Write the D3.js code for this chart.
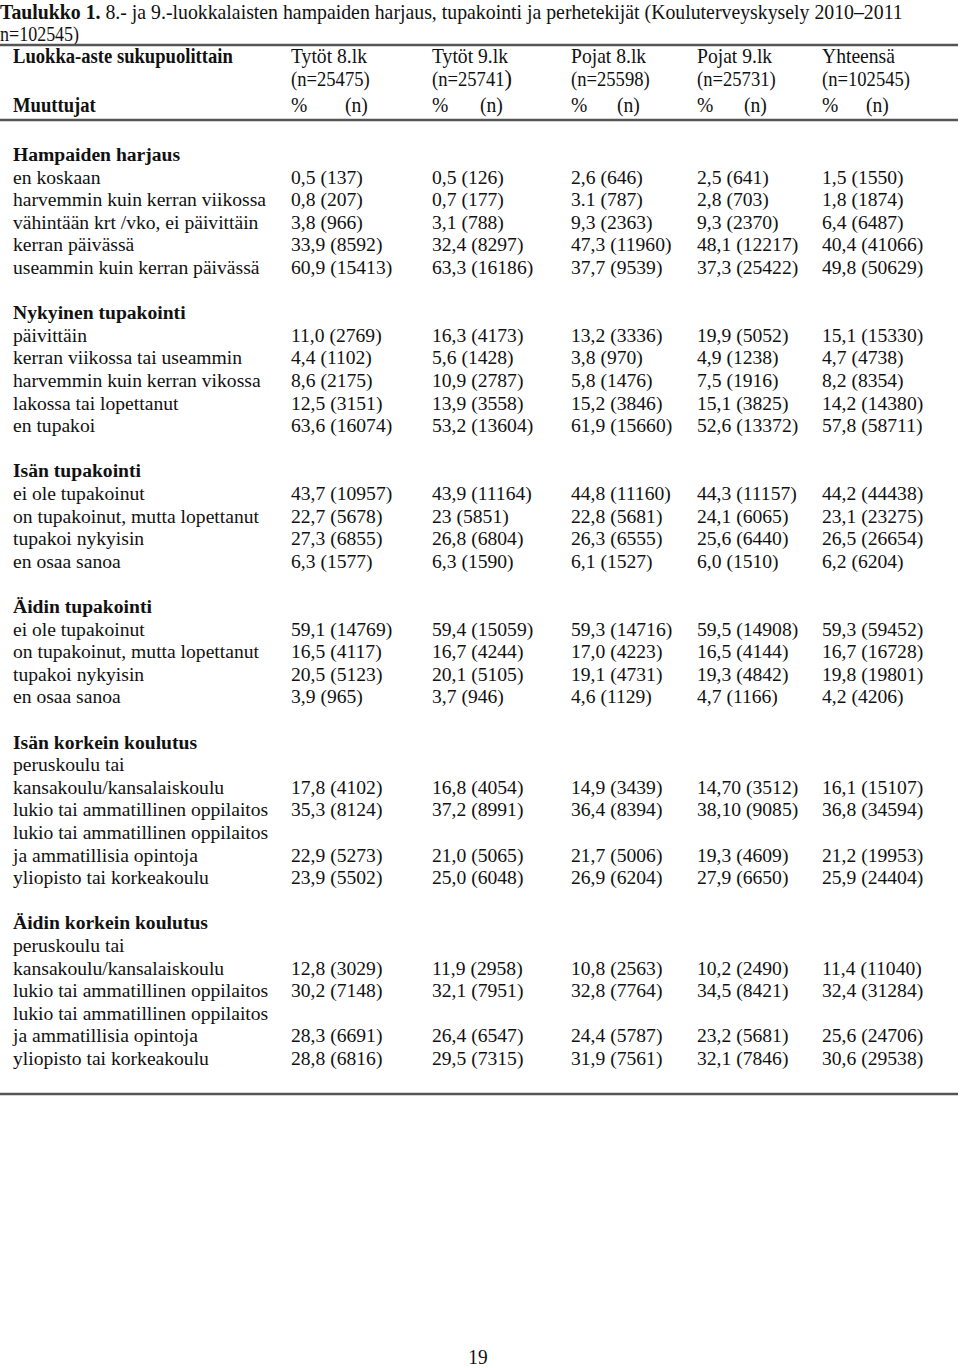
<!DOCTYPE html>
<html>
<head>
<meta charset="utf-8">
<script src="https://cdn.jsdelivr.net/npm/d3@7"></script>
<style>
  body { margin: 0; background: #fff; }
  text { font-family: "Liberation Serif", "Times New Roman", serif; fill: #111; }
</style>
</head>
<body>
<script>
const w = 960;
const h = 1368;

// table content
const columns = ['Tytöt 8.lk', 'Tytöt 9.lk', 'Pojat 8.lk', 'Pojat 9.lk', 'Yhteensä'];
const columnN = ['(n=25475)', '(n=25741', '(n=25598)', '(n=25731)', '(n=102545)'];
const sections = ['Hampaiden harjaus', 'Nykyinen tupakointi', 'Isän tupakointi', 'Äidin tupakointi',
  'Isän korkein koulutus', 'Äidin korkein koulutus'];
const rowSection = [0, 0, 0, 0, 0, 1, 1, 1, 1, 1, 2, 2, 2, 2, 3, 3, 3, 3, 4, 4, 4, 4, 5, 5, 5, 5];
const rowLabels = [
  'en koskaan', 'harvemmin kuin kerran viikossa', 'vähintään krt /vko, ei päivittäin', 'kerran päivässä',
  'useammin kuin kerran päivässä',
  'päivittäin', 'kerran viikossa tai useammin', 'harvemmin kuin kerran vikossa', 'lakossa tai lopettanut', 'en tupakoi',
  'ei ole tupakoinut', 'on tupakoinut, mutta lopettanut', 'tupakoi nykyisin', 'en osaa sanoa',
  'ei ole tupakoinut', 'on tupakoinut, mutta lopettanut', 'tupakoi nykyisin', 'en osaa sanoa',
  'peruskoulu tai|kansakoulu/kansalaiskoulu', 'lukio tai ammatillinen oppilaitos',
  'lukio tai ammatillinen oppilaitos|ja ammatillisia opintoja', 'yliopisto tai korkeakoulu',
  'peruskoulu tai|kansakoulu/kansalaiskoulu', 'lukio tai ammatillinen oppilaitos',
  'lukio tai ammatillinen oppilaitos|ja ammatillisia opintoja', 'yliopisto tai korkeakoulu'
];

const tytot8Pct = ['0,5', '0,8', '3,8', '33,9', '60,9', '11,0', '4,4', '8,6', '12,5', '63,6', '43,7', '22,7', '27,3', '6,3',
  '59,1', '16,5', '20,5', '3,9', '17,8', '35,3', '22,9', '23,9', '12,8', '30,2', '28,3', '28,8'];
const tytot8N = [137, 207, 966, 8592, 15413, 2769, 1102, 2175, 3151, 16074, 10957, 5678, 6855, 1577,
  14769, 4117, 5123, 965, 4102, 8124, 5273, 5502, 3029, 7148, 6691, 6816];
const tytot9Pct = ['0,5', '0,7', '3,1', '32,4', '63,3', '16,3', '5,6', '10,9', '13,9', '53,2', '43,9', '23', '26,8', '6,3',
  '59,4', '16,7', '20,1', '3,7', '16,8', '37,2', '21,0', '25,0', '11,9', '32,1', '26,4', '29,5'];
const tytot9N = [126, 177, 788, 8297, 16186, 4173, 1428, 2787, 3558, 13604, 11164, 5851, 6804, 1590,
  15059, 4244, 5105, 946, 4054, 8991, 5065, 6048, 2958, 7951, 6547, 7315];
const pojat8Pct = ['2,6', '3.1', '9,3', '47,3', '37,7', '13,2', '3,8', '5,8', '15,2', '61,9', '44,8', '22,8', '26,3', '6,1',
  '59,3', '17,0', '19,1', '4,6', '14,9', '36,4', '21,7', '26,9', '10,8', '32,8', '24,4', '31,9'];
const pojat8N = [646, 787, 2363, 11960, 9539, 3336, 970, 1476, 3846, 15660, 11160, 5681, 6555, 1527,
  14716, 4223, 4731, 1129, 3439, 8394, 5006, 6204, 2563, 7764, 5787, 7561];
const pojat9Pct = ['2,5', '2,8', '9,3', '48,1', '37,3', '19,9', '4,9', '7,5', '15,1', '52,6', '44,3', '24,1', '25,6', '6,0',
  '59,5', '16,5', '19,3', '4,7', '14,70', '38,10', '19,3', '27,9', '10,2', '34,5', '23,2', '32,1'];
const pojat9N = [641, 703, 2370, 12217, 25422, 5052, 1238, 1916, 3825, 13372, 11157, 6065, 6440, 1510,
  14908, 4144, 4842, 1166, 3512, 9085, 4609, 6650, 2490, 8421, 5681, 7846];
const yhtPct = ['1,5', '1,8', '6,4', '40,4', '49,8', '15,1', '4,7', '8,2', '14,2', '57,8', '44,2', '23,1', '26,5', '6,2',
  '59,3', '16,7', '19,8', '4,2', '16,1', '36,8', '21,2', '25,9', '11,4', '32,4', '25,6', '30,6'];
const yhtN = [1550, 1874, 6487, 41066, 50629, 15330, 4738, 8354, 14380, 58711, 44438, 23275, 26654, 6204,
  59452, 16728, 19801, 4206, 15107, 34594, 19953, 24404, 11040, 31284, 24706, 29538];

const pctCols = [tytot8Pct, tytot9Pct, pojat8Pct, pojat9Pct, yhtPct];
const nCols = [tytot8N, tytot9N, pojat8N, pojat9N, yhtN];

// build line slots: section heading, rows (multi-line labels), blank line between sections
const lines = [];
const cells = [];
let slot = 0;
sections.forEach((s, si) => {
  if (si > 0) slot++;
  lines.push({ slot: slot++, text: s, bold: true });
  rowSection.forEach((rs, ri) => {
    if (rs !== si) return;
    const parts = rowLabels[ri].split('|');
    parts.forEach((p) => lines.push({ slot: slot++, text: p, bold: false }));
    pctCols.forEach((col, ci) => {
      cells.push({ slot: slot - 1, col: ci, text: `${col[ri]} (${nCols[ci][ri]})` });
    });
  });
});

const svg = d3.select('body').append('svg')
  .attr('width', w)
  .attr('height', h);

const y = d3.scaleLinear().domain([0, slot - 1]).range([161, 1065]);
const x = d3.scaleOrdinal().domain(d3.range(columns.length)).range([291, 432, 571, 697, 822]);
const xN = d3.scaleOrdinal().domain(d3.range(columns.length)).range([345, 480, 617, 744, 866]);

const bodySize = 18.5, bodySx = 1.06;
const headSize = 20, headSx = 0.98;

// title
const title = svg.append('text')
  .attr('transform', `translate(0,19) scale(0.99,1)`)
  .style('font-size', '20px');
title.append('tspan').style('font-weight', 'bold').text('Taulukko 1.');
title.append('tspan').text(' 8.- ja 9.-luokkalaisten hampaiden harjaus, tupakointi ja perhetekijät (Kouluterveyskysely 2010–2011');
svg.append('text')
  .attr('transform', `translate(0,41) scale(0.9,1)`)
  .style('font-size', '20px')
  .text('n=102545)');

// rules
[45, 120, 1094].forEach((ry) => {
  svg.append('line')
    .attr('x1', 0).attr('x2', 958)
    .attr('y1', ry).attr('y2', ry)
    .attr('stroke', '#555')
    .attr('stroke-width', 2.5);
});

// header
const head = svg.append('g').style('font-size', headSize + 'px');
head.append('text')
  .attr('transform', `translate(13,63) scale(${headSx * 0.95},1)`)
  .style('font-weight', 'bold')
  .text('Luokka-aste sukupuolittain');
head.append('text')
  .attr('transform', `translate(13,112) scale(${headSx * 0.95},1)`)
  .style('font-weight', 'bold')
  .text('Muuttujat');
head.selectAll('.colname')
  .data(columns)
  .enter().append('text')
  .attr('class', 'colname')
  .attr('transform', (d, i) => `translate(${x(i)},63) scale(${headSx},1)`)
  .text((d) => d);
const nLabels = head.selectAll('.coln')
  .data(columnN)
  .enter().append('text')
  .attr('class', 'coln')
  .attr('transform', (d, i) => `translate(${x(i)},86) scale(${headSx * 0.95},1)`)
  .text((d) => d);
nLabels.filter((d, i) => i === 1).append('tspan').style('font-size', '24px').text(')');
head.selectAll('.pct')
  .data(columns)
  .enter().append('text')
  .attr('class', 'pct')
  .attr('transform', (d, i) => `translate(${x(i)},112) scale(${headSx},1)`)
  .text('%');
head.selectAll('.nunit')
  .data(columns)
  .enter().append('text')
  .attr('class', 'nunit')
  .attr('transform', (d, i) => `translate(${xN(i)},112) scale(${headSx},1)`)
  .text('(n)');

// body labels
const body = svg.append('g').style('font-size', bodySize + 'px');
body.selectAll('.label')
  .data(lines)
  .enter().append('text')
  .attr('class', 'label')
  .attr('transform', (d) => `translate(13,${y(d.slot)}) scale(${bodySx},1)`)
  .style('font-weight', (d) => d.bold ? 'bold' : 'normal')
  .text((d) => d.text);

// body values
body.selectAll('.cell')
  .data(cells)
  .enter().append('text')
  .attr('class', 'cell')
  .attr('transform', (d) => `translate(${x(d.col)},${y(d.slot)}) scale(${bodySx},1)`)
  .text((d) => d.text);

// page number
svg.append('text')
  .attr('transform', `translate(478,1364) scale(0.88,1)`)
  .attr('text-anchor', 'middle')
  .style('font-size', '22px')
  .text('19');
</script>
</body>
</html>
